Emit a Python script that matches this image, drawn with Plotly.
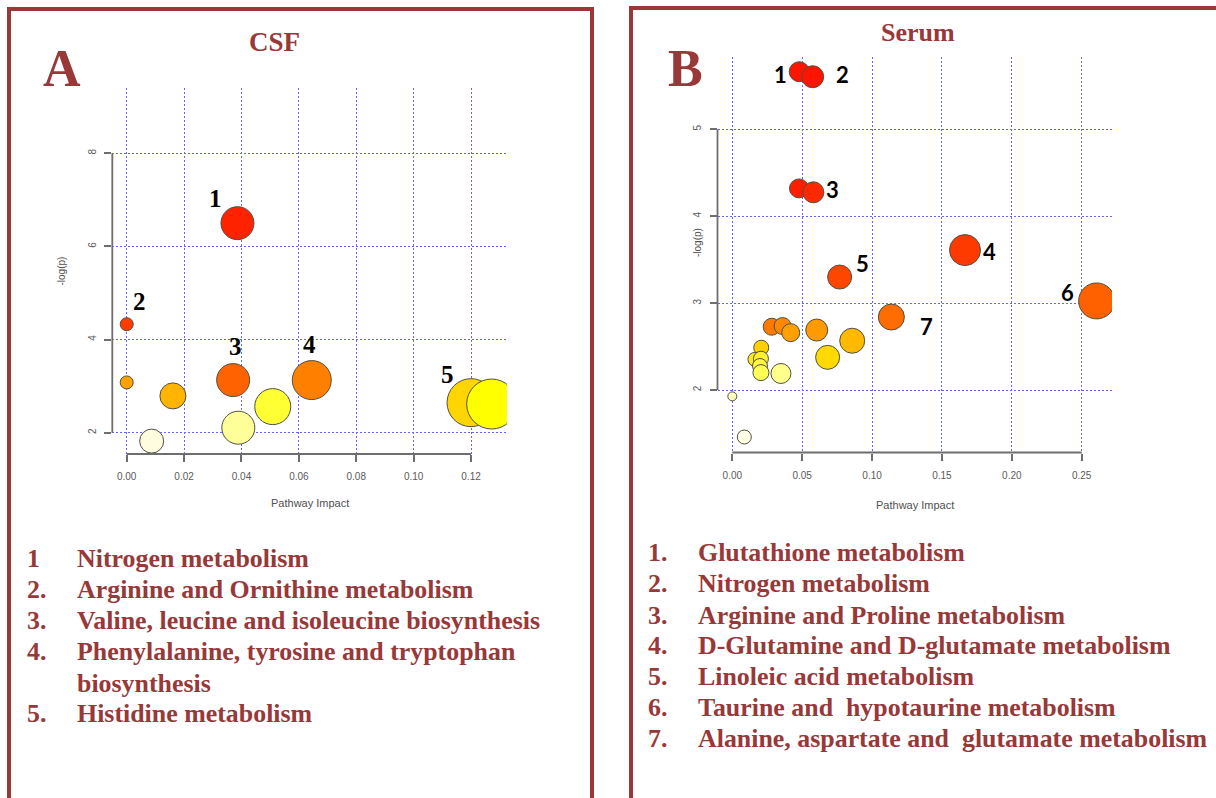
import plotly.graph_objects as go

W, H = 1216, 798

# ---------------- data: Panel A (CSF) ----------------
csf_impact = [0.0386, 0.0000, 0.0371, 0.0645, 0.1200, 0.1272, 0.0000, 0.0161, 0.0087, 0.0389, 0.0509]
csf_logp = [6.50, 4.33, 3.13, 3.13, 2.645, 2.616, 3.08, 2.79, 1.82, 2.107, 2.56]
csf_bubble = [33, 13, 33, 39, 48, 50, 13, 26, 24, 33, 36]
csf_colors = ["#FF2200", "#FF3C00", "#FF6200", "#FF8000", "#FFD500", "#FFFF00",
              "#FFA200", "#FFB400", "#FFFCE0", "#FFFF99", "#FFFF33"]
csf_label_text = ["1", "2", "3", "4", "5"]
csf_label_idx = [0, 1, 2, 3, 4]
csf_label_shift = [(-22, 25), (13, 23), (2, 34), (-2, 36), (-24, 28)]

csf_x_ticks = [0.00, 0.02, 0.04, 0.06, 0.08, 0.10, 0.12]
csf_x_ticktext = ["0.00", "0.02", "0.04", "0.06", "0.08", "0.10", "0.12"]
csf_y_ticks = [2, 4, 6, 8]

csf_pathways_num = ["1", "2.", "3.", "4.", "", "5."]
csf_pathways = ["Nitrogen metabolism", "Arginine and Ornithine metabolism",
                "Valine, leucine and isoleucine biosynthesis",
                "Phenylalanine, tyrosine and tryptophan", "biosynthesis",
                "Histidine metabolism"]

# ---------------- data: Panel B (Serum) ----------------
serum_impact = [0.0479, 0.0575, 0.0477, 0.0580, 0.1665, 0.0768, 0.2607, 0.1138,
                0.0282, 0.0360, 0.0418, 0.0604, 0.0858, 0.0682, 0.0207, 0.0162,
                0.0205, 0.0198, 0.0205, 0.0348, 0.0000, 0.0086]
serum_logp = [5.663, 5.605, 4.32, 4.275, 3.61, 3.30, 3.025, 2.84,
              2.728, 2.736, 2.66, 2.69, 2.567, 2.376, 2.487, 2.353,
              2.36, 2.276, 2.20, 2.19, 1.927, 1.459]
serum_bubble = [20, 22, 19, 21, 31, 24, 36, 26,
                17, 17, 18, 22, 25, 24, 15, 14,
                15, 15, 16, 20, 9, 14]
serum_colors = ["#FF1400", "#FF1400", "#FF1E00", "#FF2800", "#FF3A00", "#FF4600", "#FF6000", "#FF6C00",
                "#FF7800", "#FF8800", "#FFA000", "#FF9A00", "#FFBA00", "#FFDA00", "#FFD000", "#FFE820",
                "#FFF030", "#FFF545", "#FFFF55", "#FFFF8C", "#FFFFC4", "#FFFFE8"]
serum_label_text = ["1", "2", "3", "4", "5", "6", "7"]
serum_label_idx = [0, 1, 3, 4, 5, 6, 7]
serum_label_shift = [(-19, -3), (30, 2), (19, 3), (24, -1), (23, 14), (-29, 8), (35, -9)]

serum_x_ticks = [0.00, 0.05, 0.10, 0.15, 0.20, 0.25]
serum_x_ticktext = ["0.00", "0.05", "0.10", "0.15", "0.20", "0.25"]
serum_y_ticks = [2, 3, 4, 5]

serum_pathways_num = ["1.", "2.", "3.", "4.", "5.", "6.", "7."]
serum_pathways = ["Glutathione metabolism", "Nitrogen metabolism",
                  "Arginine and Proline metabolism",
                  "D-Glutamine and D-glutamate metabolism",
                  "Linoleic acid metabolism",
                  "Taurine and\u00a0 hypotaurine metabolism",
                  "Alanine, aspartate and\u00a0 glutamate metabolism"]

# ---------------- styles ----------------
DARKRED = "#983838"
GRID = "#6464FF"
AXC = "#6E6E6E"
TICKFONT = dict(family="Liberation Sans, Arial, sans-serif", size=10, color="#5A5A5A")


def px(x):
    return x / W


def py(y):
    return 1 - y / H


fig = go.Figure()

fig.add_trace(go.Scatter(
    x=csf_impact, y=csf_logp, mode="markers", xaxis="x", yaxis="y",
    marker=dict(size=csf_bubble, color=csf_colors, opacity=1,
                line=dict(color="#505040", width=1)),
    showlegend=False, hoverinfo="x+y"))

fig.add_trace(go.Scatter(
    x=serum_impact, y=serum_logp, mode="markers", xaxis="x2", yaxis="y2",
    marker=dict(size=serum_bubble, color=serum_colors, opacity=1,
                line=dict(color="#505040", width=1)),
    showlegend=False, hoverinfo="x+y"))

axis_common = dict(showline=False, zeroline=False, showgrid=True, gridcolor=GRID,
                   gridwidth=1, griddash="2px,2px", ticks="outside", ticklen=7,
                   tickcolor=AXC, tickwidth=1.5, tickfont=TICKFONT, fixedrange=True)

fig.update_layout(
    width=W, height=H, margin=dict(l=0, r=0, t=0, b=0),
    paper_bgcolor="white", plot_bgcolor="white", showlegend=False,
    xaxis=dict(domain=[112.3 / W, 507 / W], range=[-0.00502, 0.13254],
               tickvals=csf_x_ticks, ticktext=csf_x_ticktext, anchor="y",
               ticklabelstandoff=6, **axis_common),
    yaxis=dict(domain=[py(454), py(88)], range=[1.5426, 9.4023],
               tickvals=csf_y_ticks, tickangle=-90, anchor="x",
               ticklabelstandoff=4, **axis_common),
    xaxis2=dict(domain=[717.5 / W, 1112 / W], range=[-0.01059, 0.27168],
                tickvals=serum_x_ticks, ticktext=serum_x_ticktext, anchor="y2",
                ticklabelstandoff=6, **axis_common),
    yaxis2=dict(domain=[py(452.5), py(57)], range=[1.2808, 5.832],
                tickvals=serum_y_ticks, tickangle=-90, anchor="x2",
                ticklabelstandoff=5, **axis_common),
)

shapes = []
# R-style detached axis lines (span first to last tick)
shapes.append(dict(type="line", xref="x", yref="y domain", x0=csf_x_ticks[0], x1=csf_x_ticks[-1],
                   y0=0, y1=0, line=dict(color=AXC, width=1.8)))
shapes.append(dict(type="line", xref="x domain", yref="y", x0=0, x1=0,
                   y0=csf_y_ticks[0], y1=csf_y_ticks[-1], line=dict(color=AXC, width=1.8)))
shapes.append(dict(type="line", xref="x2", yref="y2 domain", x0=serum_x_ticks[0], x1=serum_x_ticks[-1],
                   y0=0, y1=0, line=dict(color=AXC, width=1.8)))
shapes.append(dict(type="line", xref="x2 domain", yref="y2", x0=0, x1=0,
                   y0=serum_y_ticks[0], y1=serum_y_ticks[-1], line=dict(color=AXC, width=1.8)))
# panel frames (open at the bottom / right, as cropped)
shapes.append(dict(type="rect", xref="paper", yref="paper", x0=px(9), x1=px(592),
                   y0=-0.05, y1=py(9), line=dict(color=DARKRED, width=4), layer="below"))
shapes.append(dict(type="rect", xref="paper", yref="paper", x0=px(631), x1=1.05,
                   y0=-0.05, y1=py(8), line=dict(color=DARKRED, width=4), layer="below"))
fig.update_layout(shapes=shapes)

ann = []


def text(x, y, s, size, color=DARKRED, family="Liberation Serif, Times New Roman, serif",
         xanchor="center", textangle=0, bold=True):
    ann.append(dict(x=px(x), y=py(y), xref="paper", yref="paper", showarrow=False,
                    text=("<b>%s</b>" % s) if bold else s, xanchor=xanchor, yanchor="middle",
                    textangle=textangle,
                    font=dict(family=family, size=size, color=color)))


# panel letters / titles
text(61.5, 68, "A", 52)
text(685.6, 68, "B", 52)
text(274, 42, "CSF", 27)
text(917.5, 33, "Serum", 26)

# axis titles
SANS = "Liberation Sans, Arial, sans-serif"
text(310, 503, "Pathway Impact", 11, color="#505050", family=SANS, bold=False)
text(915, 505, "Pathway Impact", 11, color="#505050", family=SANS, bold=False)
text(61, 271.5, "-log(p)", 10, color="#505050", family=SANS, bold=False, textangle=-90)
text(697, 243, "-log(p)", 10, color="#505050", family=SANS, bold=False, textangle=-90)

# point labels
for t, i, (dx, dy) in zip(csf_label_text, csf_label_idx, csf_label_shift):
    ann.append(dict(x=csf_impact[i], y=csf_logp[i], xref="x", yref="y", showarrow=False,
                    text="<b>%s</b>" % t, xshift=dx, yshift=dy,
                    font=dict(family="Liberation Serif, Times New Roman, serif", size=25, color="black")))
for t, i, (dx, dy) in zip(serum_label_text, serum_label_idx, serum_label_shift):
    ann.append(dict(x=serum_impact[i], y=serum_logp[i], xref="x2", yref="y2", showarrow=False,
                    text="<b>%s</b>" % t, xshift=dx, yshift=dy,
                    font=dict(family="Lato, Open Sans, sans-serif", size=22, color="black")))

# pathway lists
LIST_SIZE = 25.9
csf_rows_y = [558, 589, 620.5, 651.5, 683, 713.5]
for n, s, y in zip(csf_pathways_num, csf_pathways, csf_rows_y):
    if n:
        text(25, y, n, LIST_SIZE, xanchor="left")
    text(75, y, s, LIST_SIZE, xanchor="left")

serum_rows_y = [552.7, 583.3, 615, 645.5, 676.7, 707, 738.3]
for n, s, y in zip(serum_pathways_num, serum_pathways, serum_rows_y):
    text(646, y, n, LIST_SIZE, xanchor="left")
    text(696, y, s, LIST_SIZE, xanchor="left")

fig.update_layout(annotations=ann)

fig.write_html("out.html")
